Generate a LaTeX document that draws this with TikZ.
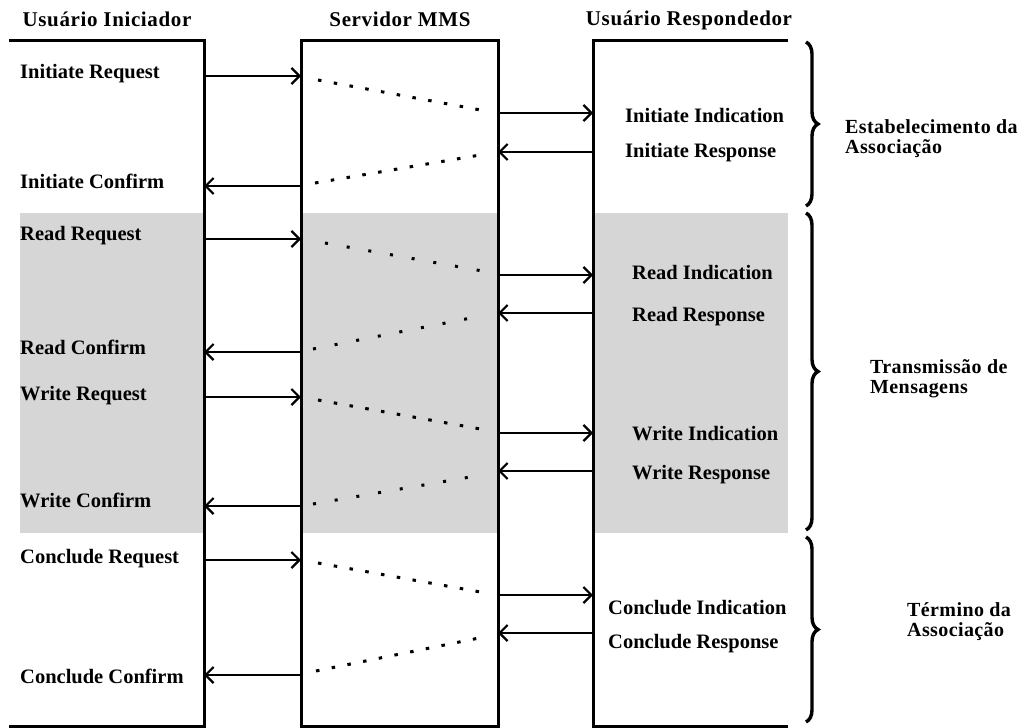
\documentclass[tikz,border=0pt]{standalone}
\usepackage{fontspec}
\setmainfont{Liberation Serif}
\usetikzlibrary{arrows.meta,decorations.pathreplacing}

\begin{document}
\begin{tikzpicture}[x=1pt,y=-1pt,
  boxline/.style={line width=3pt},
  band/.style={fill=black!16},
  msg/.style={line width=2.2pt,-{Straight Barb[length=8pt,width=16pt,line width=2.2pt]}},
  dotsdense/.style={line width=3pt,dash pattern=on 3.5pt off 12.5pt},
  dotssparse/.style={line width=3pt,dash pattern=on 3pt off 19pt},
  head/.style={font=\fontsize{21}{24}\selectfont\bfseries\addfontfeatures{LetterSpace=3},inner sep=0pt,anchor=base},
  lbl/.style={font=\fontsize{20.5}{24}\selectfont\bfseries,inner sep=0pt,anchor=base west},
  phase/.style={font=\fontsize{20}{20}\selectfont\bfseries\addfontfeatures{LetterSpace=2},inner sep=0pt,anchor=base west,align=left},
  bracestyle/.style={line width=3.4pt,decorate,decoration={brace,amplitude=12pt,aspect=0.5}}
]
\useasboundingbox (0,0) rectangle (1026,728);

% shaded band of the data-transfer phase
\fill[band] (20,213) rectangle (204,533);
\fill[band] (301,213) rectangle (498,533);
\fill[band] (593,213) rectangle (788,533);

% the three participants
\draw[boxline] (9,40) -- (204,40) -- (204,726) -- (9,726);
\draw[boxline] (301,40) rectangle (498,726);
\draw[boxline] (788,40) -- (593,40) -- (593,726) -- (788,726);

% headings
\node[head] (hIni) at (107,27) {Usuário Iniciador};
\node[head] (hSrv) at (400,27) {Servidor MMS};
\node[head] (hRsp) at (689,25) {Usuário Respondedor};

% primitives at the initiating user
\node[lbl] (tIniReq) at (20,78)  {Initiate Request};
\node[lbl] (tIniCnf) at (20,188) {Initiate Confirm};
\node[lbl] (tRdReq)  at (20,240) {Read Request};
\node[lbl] (tRdCnf)  at (20,354) {Read Confirm};
\node[lbl] (tWrReq)  at (20,400) {Write Request};
\node[lbl] (tWrCnf)  at (20,507) {Write Confirm};
\node[lbl] (tCoReq)  at (20,563) {Conclude Request};
\node[lbl] (tCoCnf)  at (20,683) {Conclude Confirm};

% primitives at the responding user
\node[lbl] (tIniInd) at (625,122) {Initiate Indication};
\node[lbl] (tIniRsp) at (625,157) {Initiate Response};
\node[lbl] (tRdInd)  at (632,279) {Read Indication};
\node[lbl] (tRdRsp)  at (632,321) {Read Response};
\node[lbl] (tWrInd)  at (632,440) {Write Indication};
\node[lbl] (tWrRsp)  at (632,479) {Write Response};
\node[lbl] (tCoInd)  at (608,614) {Conclude Indication};
\node[lbl] (tCoRsp)  at (608,648) {Conclude Response};

% requests: initiator -> server
\foreach \n/\y in {1/76,2/239,3/397,4/560}{
  \coordinate (rqA\n) at (204,\y);
  \coordinate (rqB\n) at (301,\y);
  \draw[msg] (rqA\n) -- (rqB\n);
}
% confirms: server -> initiator
\foreach \n/\y in {1/186,2/352,3/506,4/675}{
  \coordinate (cfA\n) at (301,\y);
  \coordinate (cfB\n) at (204,\y);
  \draw[msg] (cfA\n) -- (cfB\n);
}
% indications: server -> responder
\foreach \n/\y in {1/113,2/275,3/433,4/595}{
  \coordinate (inA\n) at (498,\y);
  \coordinate (inB\n) at (593,\y);
  \draw[msg] (inA\n) -- (inB\n);
}
% responses: responder -> server
\foreach \n/\y in {1/152,2/313,3/471,4/633}{
  \coordinate (rsA\n) at (593,\y);
  \coordinate (rsB\n) at (498,\y);
  \draw[msg] (rsA\n) -- (rsB\n);
}

% transit through the server (each dotted trace starts at its left end)
\coordinate (d1a) at (318,80);  \coordinate (d1b) at (486,111);
\coordinate (d2a) at (315,183); \coordinate (d2b) at (486,154);
\coordinate (d3a) at (325,243); \coordinate (d3b) at (488,272);
\coordinate (d4a) at (313,349); \coordinate (d4b) at (476,317);
\coordinate (d5a) at (318,400); \coordinate (d5b) at (486,430);
\coordinate (d6a) at (313,504); \coordinate (d6b) at (476,476);
\coordinate (d7a) at (318,563); \coordinate (d7b) at (486,593);
\coordinate (d8a) at (316,671); \coordinate (d8b) at (484,637);
\draw[dotsdense]  (d1a) -- (d1b);
\draw[dotsdense]  (d2a) -- (d2b);
\draw[dotssparse] (d3a) -- (d3b);
\draw[dotssparse] (d4a) -- (d4b);
\draw[dotsdense]  (d5a) -- (d5b);
\draw[dotssparse] (d6a) -- (d6b);
\draw[dotsdense]  (d7a) -- (d7b);
\draw[dotsdense]  (d8a) -- (d8b);

% phase braces and their names
\coordinate (b1a) at (806,42);  \coordinate (b1b) at (806,206);
\coordinate (b2a) at (806,213); \coordinate (b2b) at (806,530);
\coordinate (b3a) at (806,537); \coordinate (b3b) at (806,722);
\draw[bracestyle] (b1a) -- (b1b);
\draw[bracestyle] (b2a) -- (b2b);
\draw[bracestyle] (b3a) -- (b3b);

\node[phase] (pEst) at (845,153) {Estabelecimento da\\Associação};
\node[phase] (pTrn) at (870,393) {Transmissão de\\Mensagens};
\node[phase] (pTer) at (907,636) {Término da\\Associação};
\end{tikzpicture}
\end{document}
